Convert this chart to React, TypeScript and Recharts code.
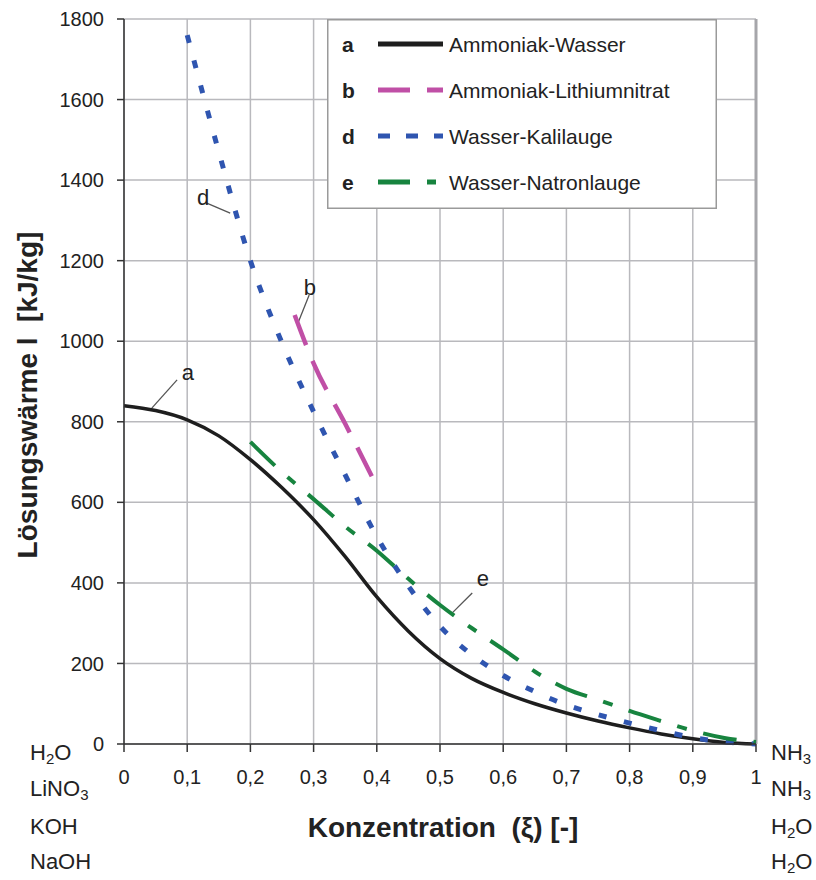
import React from "react";
import {
  LineChart,
  Line,
  XAxis,
  YAxis,
  CartesianGrid,
  Legend,
  ReferenceLine,
  ReferenceDot,
} from "recharts";

const FONT = '"Liberation Sans", Arial, sans-serif';

// concentration grid (xi) shared by curves a, d, e
const concentration = [
  0, 0.05, 0.1, 0.15, 0.2, 0.25, 0.3, 0.35, 0.4, 0.45, 0.5, 0.55, 0.6, 0.65,
  0.7, 0.75, 0.8, 0.85, 0.9, 0.95, 1,
];
// a: Ammoniak-Wasser
const ammoniakWasser = [
  840, 828, 805, 765, 706, 636, 557, 465, 365, 280, 212, 163, 128, 100, 77,
  57, 40, 25, 13, 4, 0,
];
// d: Wasser-Kalilauge
const wasserKalilauge = [
  null, null, 1760, 1470, 1200, 996, 825, 668, 515, 392, 292, 222, 170, 130,
  97, 73, 52, 33, 16, 5, 0,
];
// e: Wasser-Natronlauge
const wasserNatronlauge = [
  null, null, null, null, 750, 675, 608, 540, 480, 410, 345, 288, 235, 180,
  137, 110, 82, 57, 33, 15, 5,
];
// b: Ammoniak-Lithiumnitrat (own x values)
const lithiumConcentration = [0.27, 0.3, 0.35, 0.4];
const ammoniakLithiumnitrat = [1065, 945, 795, 640];

const xTicks = [0, 0.1, 0.2, 0.3, 0.4, 0.5, 0.6, 0.7, 0.8, 0.9, 1];
const yTicks = [0, 200, 400, 600, 800, 1000, 1200, 1400, 1600, 1800];

const series = [
  { key: "a", name: "Ammoniak-Wasser", color: "#1e1e1e", width: 3.5, dash: undefined, legendDash: undefined },
  { key: "b", name: "Ammoniak-Lithiumnitrat", color: "#c04fa6", width: 4.5, dash: "32 17", legendDash: "32 17" },
  { key: "d", name: "Wasser-Kalilauge", color: "#2f55b0", width: 5, dash: "8 18", legendDash: "12 16" },
  { key: "e", name: "Wasser-Natronlauge", color: "#17843f", width: 4, dash: "34 17 10 17", legendDash: "32 17 9 17" },
];

// curve letters with leader lines (data coordinates)
const curveLabels = [
  { text: "a", x: 0.101, y: 924, from: [0.084, 904], to: [0.044, 834] },
  { text: "b", x: 0.294, y: 1135, from: [0.293, 1115], to: [0.274, 1040] },
  { text: "d", x: 0.125, y: 1358, from: [0.131, 1343], to: [0.168, 1318] },
  { text: "e", x: 0.568, y: 412, from: [0.551, 375], to: [0.519, 325] },
];

const leftSubstances = [["H", "2", "O"], ["LiNO", "3", ""], ["KOH", "", ""], ["NaOH", "", ""]];
const rightSubstances = [["NH", "3", ""], ["NH", "3", ""], ["H", "2", "O"], ["H", "2", "O"]];

const buildTable = () => {
  const rows: Record<number, any> = {};
  concentration.forEach((x, i) => {
    rows[x] = { x, a: ammoniakWasser[i], d: wasserKalilauge[i], e: wasserNatronlauge[i] };
  });
  lithiumConcentration.forEach((x, i) => {
    rows[x] = { ...(rows[x] || { x }), b: ammoniakLithiumnitrat[i] };
  });
  return Object.values(rows).sort((p: any, q: any) => p.x - q.x);
};

const data = buildTable();

const LegendBox = () => (
  <svg width={390} height={190} style={{ display: "block" }}>
    <rect x={0.75} y={0.75} width={388.5} height={188.5} fill="#fff" stroke="#9a9a9a" strokeWidth={1.5} />
    {series.map((s, i) => {
      const cy = 26 + i * 46;
      return (
        <g key={s.key}>
          <text x={15} y={cy + 7} fontFamily={FONT} fontSize={21} fontWeight="bold" fill="#222">
            {s.key}
          </text>
          <line x1={51} x2={116} y1={cy - 1} y2={cy - 1} stroke={s.color} strokeWidth={5} strokeDasharray={s.legendDash} />
          <text x={122} y={cy + 7} fontFamily={FONT} fontSize={21} fill="#222">
            {s.name}
          </text>
        </g>
      );
    })}
  </svg>
);

const Substance = ({ parts, left, top }: { parts: string[]; left: number; top: number }) => (
  <div style={{ position: "absolute", left, top, fontFamily: FONT, fontSize: 22, lineHeight: "22px", color: "#222", whiteSpace: "nowrap" }}>
    {parts[0]}
    {parts[1] && (
      <span style={{ fontSize: 15, position: "relative", top: 4 }}>{parts[1]}</span>
    )}
    {parts[2]}
  </div>
);

const App = () => {
  const tickStyle = { fontFamily: FONT, fontSize: 20, fill: "#222" };
  const rowTops = [742, 778, 816, 851];

  return (
    <div style={{ position: "absolute", left: 0, top: 0, width: 816, height: 880, background: "#fff" }}>
      <LineChart
        width={816}
        height={880}
        data={data}
        margin={{ top: 19, right: 60, left: 64, bottom: 86 }}
      >
        <CartesianGrid stroke="#b9b9bd" strokeWidth={1.5} />
        <XAxis
          type="number"
          dataKey="x"
          domain={[0, 1]}
          ticks={xTicks}
          interval={0}
          height={50}
          tickSize={8}
          tickMargin={18}
          tick={tickStyle}
          tickFormatter={(v: number) => String(v).replace(".", ",")}
          axisLine={{ stroke: "#333", strokeWidth: 1.5 }}
          tickLine={{ stroke: "#333", strokeWidth: 1.5 }}
        />
        <YAxis
          type="number"
          domain={[0, 1800]}
          ticks={yTicks}
          interval={0}
          width={60}
          tickSize={7}
          tickMargin={13}
          tick={tickStyle}
          axisLine={{ stroke: "#333", strokeWidth: 1.5 }}
          tickLine={{ stroke: "#333", strokeWidth: 1.5 }}
        />
        <ReferenceLine x={1} stroke="#a6a6aa" strokeWidth={3} />
        {curveLabels.map((c) => (
          <ReferenceLine
            key={`l-${c.text}`}
            segment={[
              { x: c.from[0], y: c.from[1] },
              { x: c.to[0], y: c.to[1] },
            ]}
            stroke="#555"
            strokeWidth={1.3}
          />
        ))}
        {curveLabels.map((c) => (
          <ReferenceDot
            key={`t-${c.text}`}
            x={c.x}
            y={c.y}
            r={0}
            fill="none"
            stroke="none"
            label={{ value: c.text, position: "center", fontFamily: FONT, fontSize: 22, fill: "#222" }}
          />
        ))}
        {series.map((s) => (
          <Line
            key={s.key}
            dataKey={s.key}
            name={s.name}
            type="monotone"
            stroke={s.color}
            strokeWidth={s.width}
            strokeDasharray={s.dash}
            dot={false}
            activeDot={false}
            connectNulls
            isAnimationActive={false}
          />
        ))}
        <Legend
          layout="vertical"
          align="center"
          verticalAlign="middle"
          wrapperStyle={{ left: 327, top: 19, width: 390, height: 190 }}
          content={() => <LegendBox />}
        />
      </LineChart>

      <div
        style={{
          position: "absolute",
          left: 28,
          top: 395,
          transform: "translate(-50%, -50%) rotate(-90deg)",
          fontFamily: FONT,
          fontSize: 28,
          fontWeight: "bold",
          color: "#222",
          whiteSpace: "pre",
        }}
      >
        {"Lösungswärme l  [kJ/kg]"}
      </div>
      <div
        style={{
          position: "absolute",
          left: 443,
          top: 828,
          transform: "translate(-50%, -50%)",
          fontFamily: FONT,
          fontSize: 28,
          fontWeight: "bold",
          color: "#222",
          whiteSpace: "pre",
        }}
      >
        {"Konzentration  (ξ) [-]"}
      </div>

      {leftSubstances.map((p, i) => (
        <Substance key={`ls-${i}`} parts={p} left={30} top={rowTops[i]} />
      ))}
      {rightSubstances.map((p, i) => (
        <Substance key={`rs-${i}`} parts={p} left={771} top={rowTops[i]} />
      ))}
    </div>
  );
};

export default App;
